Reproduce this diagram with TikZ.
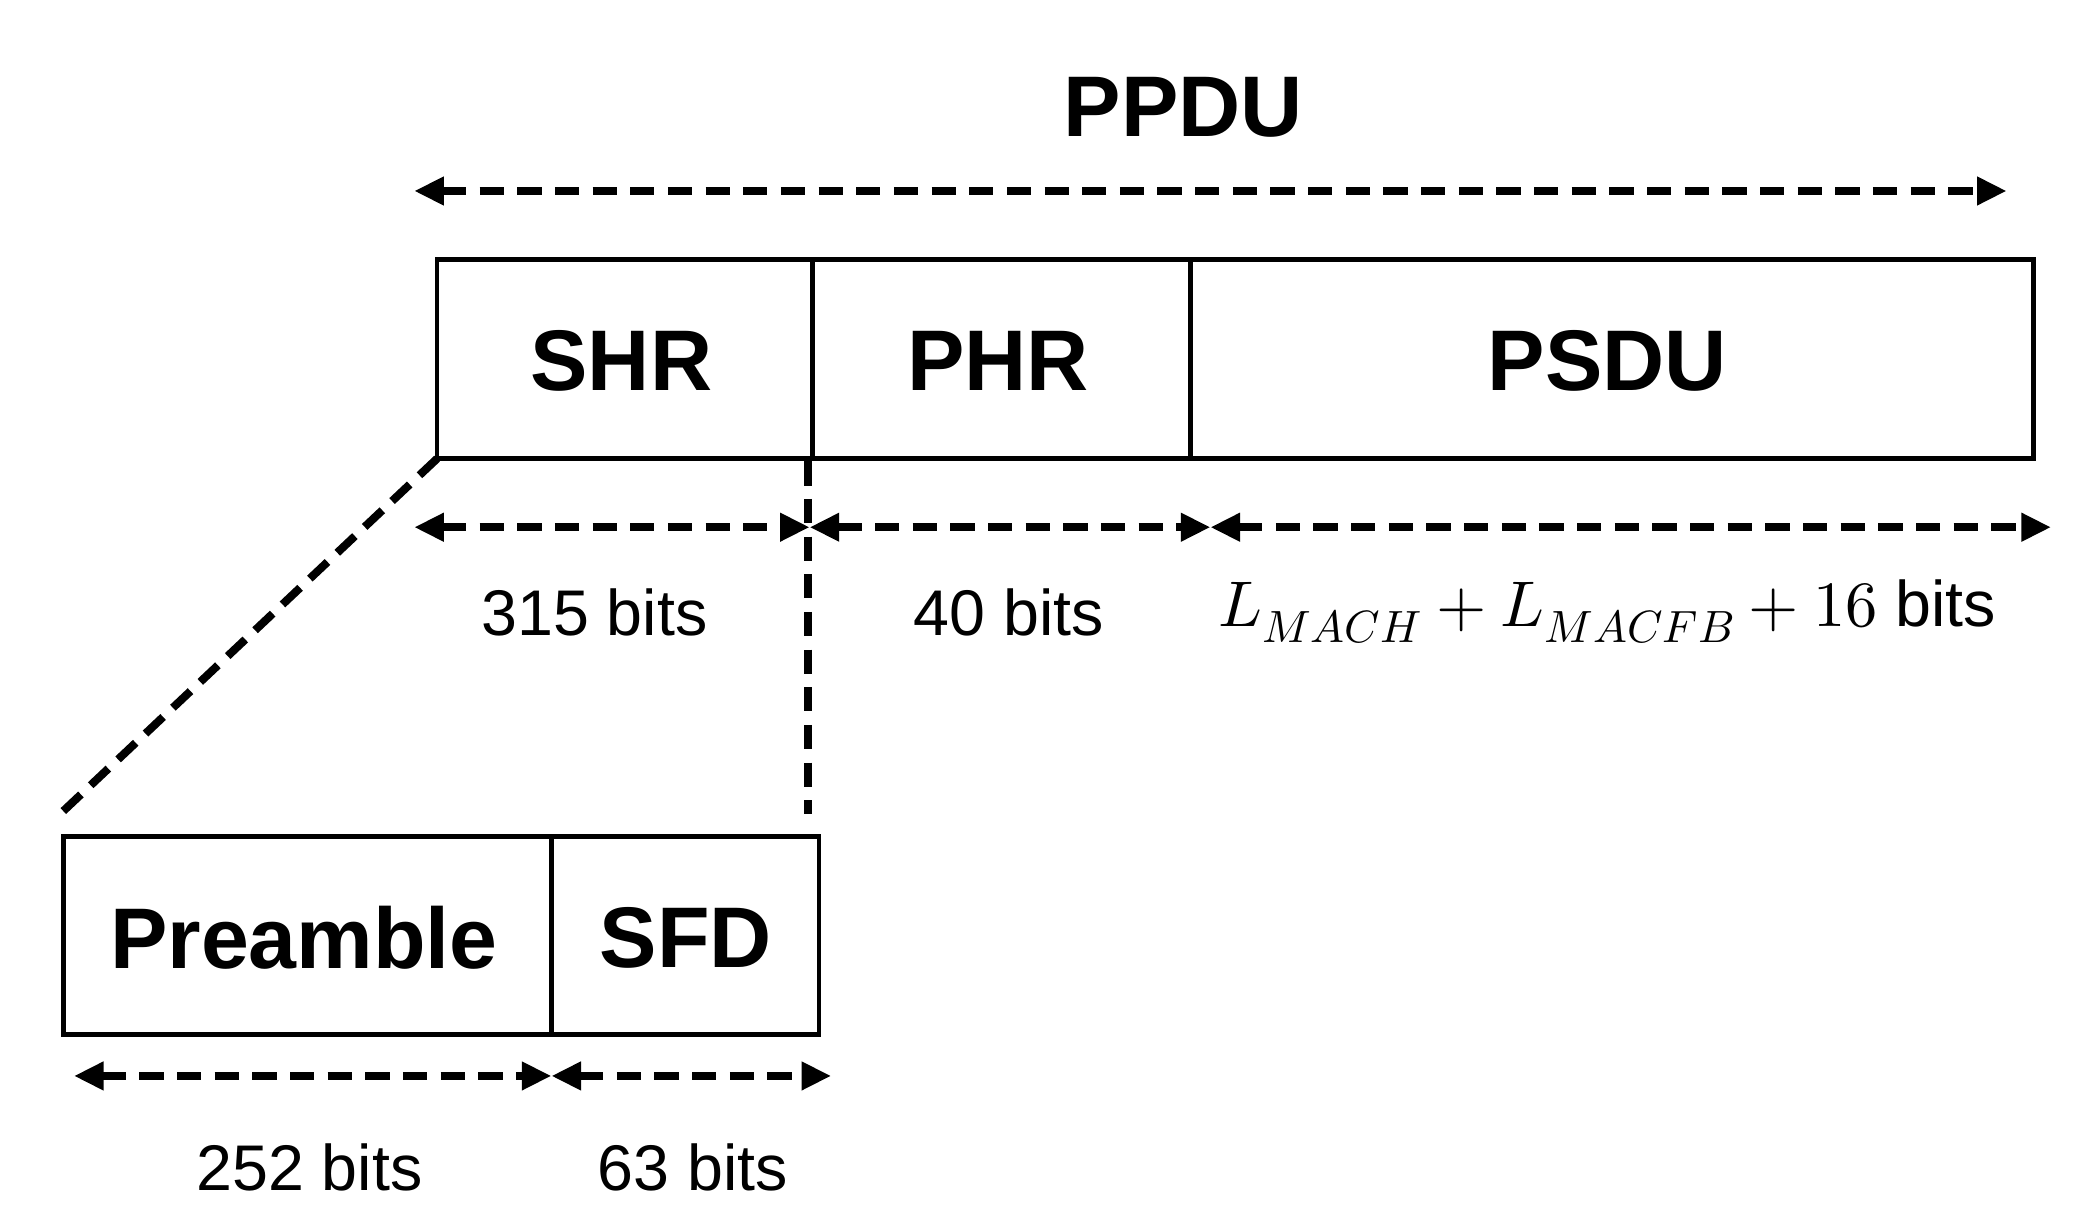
\documentclass[tikz,border=0pt]{standalone}
\usepackage{unicode-math}
\setmainfont{Liberation Sans}
\setmathfont{Latin Modern Math}
\usetikzlibrary{arrows.meta}
\begin{document}
\begin{tikzpicture}[x=1pt,y=-1pt,
  box/.style={draw,line width=3.5pt},
  dim/.style={line width=6pt,dash pattern=on 18pt off 10pt,{Triangle[length=22pt,width=20pt]}-{Triangle[length=22pt,width=20pt]}},
  dl/.style={line width=6pt,dash pattern=on 18pt off 10pt},
  big/.style={font=\fontsize{64}{66}\selectfont\bfseries},
  lab/.style={font=\fontsize{48}{50}\selectfont}]
\useasboundingbox (0,0) rectangle (1554,908);
\node[big] (ppdu) at (880,80) {PPDU};
\coordinate (p1) at (308,142); \coordinate (p2) at (1492,142);
\draw[dim] (p1) -- (p2);
\draw[box] (325,193) rectangle (1512,341);
\draw[box] (604,193) -- (604,341) (885,193) -- (885,341);
\node[big] (shr) at (462,268) {SHR};
\node[big] (phr) at (742,268) {PHR};
\node[big] (psdu) at (1195,268) {PSDU};
\coordinate (a1) at (308,392); \coordinate (a2) at (602,392);
\coordinate (a3) at (900,392); \coordinate (a4) at (1525,392);
\draw[dim] (a1) -- (a2); \draw[dim] (a2) -- (a3); \draw[dim] (a3) -- (a4);
\node[lab] (l1) at (442,455) {315 bits};
\node[lab] (l2) at (750,455) {40 bits};
\node[lab] (l3) at (1195,455) {$L_{MACH}+L_{MACFB}+16$ bits};
\coordinate (c1) at (325,341); \coordinate (c2) at (45,605);
\coordinate (c3) at (601,343); \coordinate (c4) at (601,605);
\draw[dl] (c1) -- (c2); \draw[dl] (c3) -- (c4);
\draw[box] (47,622) rectangle (609,769);
\draw[box] (410,622) -- (410,769);
\node[big] (pre) at (226,697) {Preamble};
\node[big] (sfd) at (510,697) {SFD};
\coordinate (b1) at (55,800); \coordinate (b2) at (410,800); \coordinate (b3) at (618,800);
\draw[dim] (b1) -- (b2); \draw[dim] (b2) -- (b3);
\node[lab] (l4) at (230,868) {252 bits};
\node[lab] (l5) at (515,868) {63 bits};
\end{tikzpicture}
\end{document}
